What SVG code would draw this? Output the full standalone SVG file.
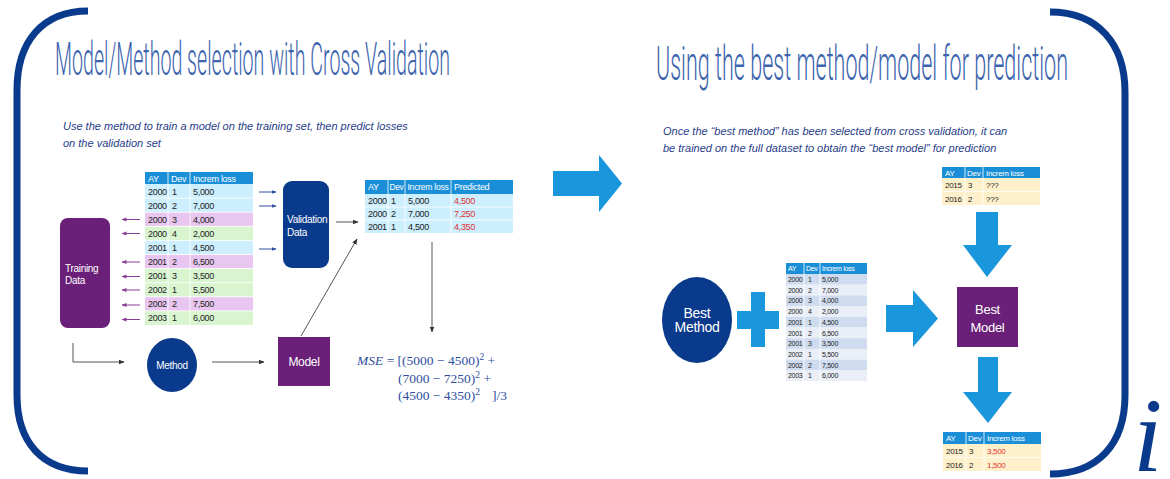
<svg xmlns="http://www.w3.org/2000/svg" width="1170" height="479" viewBox="0 0 1170 479">
  <style>
    .bracket { fill: none; stroke: #0a3a8c; stroke-width: 7; stroke-linecap: butt; }
    .title { font-family: Roboto, "Liberation Sans", sans-serif; font-weight: 300; fill: #3d64ae; }
    .note { font-family: "Liberation Sans", Arial, sans-serif; font-style: italic; font-size: 11px; fill: #1f3c88; }
    .cell { font-family: "Liberation Sans", Arial, sans-serif; font-size: 9px; fill: #222; letter-spacing: -0.3px; }
    .hcell { font-family: "Liberation Sans", Arial, sans-serif; font-size: 9px; fill: #fff; letter-spacing: -0.3px; }
    .red { fill: #e03030; }
    .hdr { fill: #1a8fd8; }
    .rb { fill: #cdeefd; }
    .rp { fill: #e8c6ef; }
    .rg { fill: #d8f5d0; }
    .ry { fill: #fff0cc; }
    .rd { fill: #cfdcef; }
    .rl { fill: #e9eef7; }
    .sep { stroke: #fff; stroke-width: 0.8; }
    .purple { fill: #6a1f78; }
    .navy { fill: #0a3a8c; }
    .wlabel { font-family: "Liberation Sans", Arial, sans-serif; fill: #fff; letter-spacing: -0.3px; }
    .bigarrow { fill: #1996dc; }
    .con { stroke: #555; stroke-width: 1; fill: none; }
    .conblue { stroke: #3050a0; stroke-width: 1; fill: none; }
    .conpurple { stroke: #8a3c98; stroke-width: 1; fill: none; }
    .mse { font-family: "Liberation Serif", "Times New Roman", serif; font-size: 13.5px; fill: #2e4f9e; }
  </style>
  <defs>
    <marker id="ah" viewBox="0 0 10 10" refX="9" refY="5" markerWidth="6" markerHeight="6" orient="auto" markerUnits="userSpaceOnUse">
      <path d="M0,1 L10,5 L0,9 Z" fill="#333"/>
    </marker>
    <marker id="ahb" viewBox="0 0 10 10" refX="9" refY="5" markerWidth="5" markerHeight="5" orient="auto" markerUnits="userSpaceOnUse">
      <path d="M0,1 L10,5 L0,9 Z" fill="#3050a0"/>
    </marker>
    <marker id="ahp" viewBox="0 0 10 10" refX="9" refY="5" markerWidth="5" markerHeight="5" orient="auto" markerUnits="userSpaceOnUse">
      <path d="M0,1 L10,5 L0,9 Z" fill="#8a3c98"/>
    </marker>
  </defs>

  <rect width="1170" height="479" fill="#fff"/>

  <!-- outer brackets and index -->
  <g id="frame">
    <path class="bracket" d="M88,11 C42,11 17,42 17,90 L17,395 C17,442 42,471 88,471"/>
    <path class="bracket" d="M1050,12 C1098,12 1125,44 1125,92 L1125,395 C1125,444 1098,474 1050,474"/>
    <text x="1133" y="471" font-family="'Liberation Serif', 'Times New Roman', serif" font-style="italic" font-size="106" fill="#0a3a8c">i</text>
  </g>

  <!-- headings -->
  <g id="headings">
    <text class="title" x="55" y="75" font-size="46" textLength="395" lengthAdjust="spacingAndGlyphs">Model/Method selection with Cross Validation</text>
    <text class="title" x="656" y="80" font-size="49" textLength="412" lengthAdjust="spacingAndGlyphs">Using the best method/model for prediction</text>
    <text class="note" x="63" y="130">Use the method to train a model on the training set, then predict losses</text>
    <text class="note" x="63" y="147">on the validation set</text>
    <text class="note" x="663" y="135" font-size="10.5">Once the “best method” has been selected from cross validation, it can</text>
    <text class="note" x="663" y="152" font-size="10.5">be trained on the full dataset to obtain the “best model” for prediction</text>
  </g>

  <!-- full dataset split into training and validation rows -->
  <g id="data-table">
    <rect class="hdr" x="145" y="172" width="108" height="12"/>
    <rect class="rb" x="145" y="184" width="108" height="14.1"/>
    <rect class="rb" x="145" y="198.1" width="108" height="14.1"/>
    <rect class="rp" x="145" y="212.2" width="108" height="14.1"/>
    <rect class="rg" x="145" y="226.3" width="108" height="14.1"/>
    <rect class="rb" x="145" y="240.4" width="108" height="14.1"/>
    <rect class="rp" x="145" y="254.5" width="108" height="14.1"/>
    <rect class="rg" x="145" y="268.6" width="108" height="14.1"/>
    <rect class="rg" x="145" y="282.7" width="108" height="14.1"/>
    <rect class="rp" x="145" y="296.8" width="108" height="14.1"/>
    <rect class="rg" x="145" y="310.9" width="108" height="14.1"/>
    <g class="sep">
      <line x1="168" y1="172" x2="168" y2="325"/>
      <line x1="190" y1="172" x2="190" y2="325"/>
      <line x1="145" y1="198.1" x2="253" y2="198.1"/>
      <line x1="145" y1="212.2" x2="253" y2="212.2"/>
      <line x1="145" y1="226.3" x2="253" y2="226.3"/>
      <line x1="145" y1="240.4" x2="253" y2="240.4"/>
      <line x1="145" y1="254.5" x2="253" y2="254.5"/>
      <line x1="145" y1="268.6" x2="253" y2="268.6"/>
      <line x1="145" y1="282.7" x2="253" y2="282.7"/>
      <line x1="145" y1="296.8" x2="253" y2="296.8"/>
      <line x1="145" y1="310.9" x2="253" y2="310.9"/>
    </g>
    <text class="hcell" x="148" y="181.5">AY</text>
    <text class="hcell" x="171" y="181.5">Dev</text>
    <text class="hcell" x="193" y="181.5">Increm loss</text>
    <g class="cell">
      <text x="148" y="194.5">2000</text><text x="172" y="194.5">1</text><text x="193" y="194.5">5,000</text>
      <text x="148" y="208.6">2000</text><text x="172" y="208.6">2</text><text x="193" y="208.6">7,000</text>
      <text x="148" y="222.7">2000</text><text x="172" y="222.7">3</text><text x="193" y="222.7">4,000</text>
      <text x="148" y="236.8">2000</text><text x="172" y="236.8">4</text><text x="193" y="236.8">2,000</text>
      <text x="148" y="250.9">2001</text><text x="172" y="250.9">1</text><text x="193" y="250.9">4,500</text>
      <text x="148" y="265">2001</text><text x="172" y="265">2</text><text x="193" y="265">6,500</text>
      <text x="148" y="279.1">2001</text><text x="172" y="279.1">3</text><text x="193" y="279.1">3,500</text>
      <text x="148" y="293.2">2002</text><text x="172" y="293.2">1</text><text x="193" y="293.2">5,500</text>
      <text x="148" y="307.3">2002</text><text x="172" y="307.3">2</text><text x="193" y="307.3">7,500</text>
      <text x="148" y="321.4">2003</text><text x="172" y="321.4">1</text><text x="193" y="321.4">6,000</text>
    </g>
  </g>

  <g id="training-data">
    <rect class="purple" x="60" y="218" width="50" height="110" rx="8"/>
    <text class="wlabel" x="65" y="271.5" font-size="10">Training</text>
    <text class="wlabel" x="65" y="284" font-size="10">Data</text>
  </g>

  <g id="validation-data">
    <rect class="navy" x="283" y="181" width="46" height="87" rx="9"/>
    <text class="wlabel" x="287" y="222.5" font-size="10">Validation</text>
    <text class="wlabel" x="287" y="236" font-size="10">Data</text>
  </g>

  <g id="method">
    <ellipse class="navy" cx="172" cy="365" rx="25" ry="27"/>
    <text class="wlabel" x="172" y="368.5" font-size="10" text-anchor="middle">Method</text>
  </g>

  <g id="model">
    <rect class="purple" x="278" y="337" width="52" height="49"/>
    <text class="wlabel" x="304" y="366" font-size="12" text-anchor="middle">Model</text>
  </g>

  <!-- predictions on the validation rows -->
  <g id="prediction-table">
    <rect class="hdr" x="365" y="180" width="148" height="14"/>
    <rect class="rb" x="365" y="194" width="148" height="39"/>
    <g class="sep">
      <line x1="388" y1="180" x2="388" y2="233"/>
      <line x1="405" y1="180" x2="405" y2="233"/>
      <line x1="451" y1="180" x2="451" y2="233"/>
      <line x1="365" y1="207" x2="513" y2="207"/>
      <line x1="365" y1="220" x2="513" y2="220"/>
    </g>
    <text class="hcell" x="368" y="190">AY</text>
    <text class="hcell" x="389.5" y="190" textLength="14" lengthAdjust="spacingAndGlyphs">Dev</text>
    <text class="hcell" x="407.5" y="190" textLength="41" lengthAdjust="spacingAndGlyphs">Increm loss</text>
    <text class="hcell" x="454" y="190">Predicted</text>
    <g class="cell">
      <text x="368" y="204">2000</text><text x="391" y="204">1</text><text x="408" y="204">5,000</text><text class="red" x="454" y="204">4,500</text>
      <text x="368" y="217">2000</text><text x="391" y="217">2</text><text x="408" y="217">7,000</text><text class="red" x="454" y="217">7,250</text>
      <text x="368" y="230">2001</text><text x="391" y="230">1</text><text x="408" y="230">4,500</text><text class="red" x="454" y="230">4,350</text>
    </g>
  </g>

  <g id="mse">
    <text class="mse" x="357" y="365"><tspan font-style="italic">MSE</tspan> = [(5000 − 4500)<tspan font-size="9.5" dy="-5">2</tspan><tspan dy="5"> +</tspan></text>
    <text class="mse" x="398" y="383">(7000 − 7250)<tspan font-size="9.5" dy="-5">2</tspan><tspan dy="5"> +</tspan></text>
    <text class="mse" x="398" y="400">(4500 − 4350)<tspan font-size="9.5" dy="-5">2</tspan></text>
    <text class="mse" x="492" y="400">]/3</text>
  </g>

  <g id="section-arrow">
    <path class="bigarrow" d="M553,171 L599,171 L599,155 L622,183.5 L599,212 L599,196 L553,196 Z"/>
  </g>

  <g id="best-method">
    <ellipse class="navy" cx="697" cy="320" rx="35" ry="43"/>
    <text class="wlabel" x="697" y="318" font-size="14" text-anchor="middle">Best</text>
    <text class="wlabel" x="697" y="332" font-size="14" text-anchor="middle">Method</text>
  </g>

  <g id="plus">
    <rect class="bigarrow" x="737" y="311" width="42" height="18"/>
    <rect class="bigarrow" x="751" y="292" width="14" height="55"/>
  </g>

  <!-- full dataset -->
  <g id="full-table">
    <rect class="hdr" x="786" y="263" width="81" height="11"/>
    <rect class="rd" x="786" y="274" width="81" height="10.7"/>
    <rect class="rl" x="786" y="284.7" width="81" height="10.7"/>
    <rect class="rd" x="786" y="295.4" width="81" height="10.7"/>
    <rect class="rl" x="786" y="306.1" width="81" height="10.7"/>
    <rect class="rd" x="786" y="316.8" width="81" height="10.7"/>
    <rect class="rl" x="786" y="327.5" width="81" height="10.7"/>
    <rect class="rd" x="786" y="338.2" width="81" height="10.7"/>
    <rect class="rl" x="786" y="348.9" width="81" height="10.7"/>
    <rect class="rd" x="786" y="359.6" width="81" height="10.7"/>
    <rect class="rl" x="786" y="370.3" width="81" height="10.7"/>
    <g class="sep">
      <line x1="804" y1="263" x2="804" y2="381"/>
      <line x1="820" y1="263" x2="820" y2="381"/>
    </g>
    <g class="hcell" style="font-size:7px">
      <text x="788" y="271">AY</text><text x="806" y="271">Dev</text><text x="822" y="271">Increm loss</text>
    </g>
    <g class="cell" style="font-size:7px">
      <text x="788" y="282">2000</text><text x="808" y="282">1</text><text x="822" y="282">5,000</text>
      <text x="788" y="292.7">2000</text><text x="808" y="292.7">2</text><text x="822" y="292.7">7,000</text>
      <text x="788" y="303.4">2000</text><text x="808" y="303.4">3</text><text x="822" y="303.4">4,000</text>
      <text x="788" y="314.1">2000</text><text x="808" y="314.1">4</text><text x="822" y="314.1">2,000</text>
      <text x="788" y="324.8">2001</text><text x="808" y="324.8">1</text><text x="822" y="324.8">4,500</text>
      <text x="788" y="335.5">2001</text><text x="808" y="335.5">2</text><text x="822" y="335.5">6,500</text>
      <text x="788" y="346.2">2001</text><text x="808" y="346.2">3</text><text x="822" y="346.2">3,500</text>
      <text x="788" y="356.9">2002</text><text x="808" y="356.9">1</text><text x="822" y="356.9">5,500</text>
      <text x="788" y="367.6">2002</text><text x="808" y="367.6">2</text><text x="822" y="367.6">7,500</text>
      <text x="788" y="378.3">2003</text><text x="808" y="378.3">1</text><text x="822" y="378.3">6,000</text>
    </g>
  </g>

  <g id="to-best-model">
    <path class="bigarrow" d="M886,305 L913,305 L913,290 L938,318.5 L913,347 L913,332 L886,332 Z"/>
  </g>

  <!-- rows to predict -->
  <g id="new-rows">
    <rect class="hdr" x="942" y="167" width="98" height="11"/>
    <rect class="ry" x="942" y="178" width="98" height="27"/>
    <g class="sep">
      <line x1="965" y1="167" x2="965" y2="205"/>
      <line x1="983" y1="167" x2="983" y2="205"/>
      <line x1="942" y1="191.5" x2="1040" y2="191.5"/>
    </g>
    <g class="hcell" style="font-size:8px">
      <text x="945" y="175.5">AY</text><text x="967" y="175.5">Dev</text><text x="986" y="175.5">Increm loss</text>
    </g>
    <g class="cell" style="font-size:8px">
      <text x="945" y="188">2015</text><text x="968" y="188">3</text><text x="986" y="188">???</text>
      <text x="945" y="201.5">2016</text><text x="968" y="201.5">2</text><text x="986" y="201.5">???</text>
    </g>
  </g>

  <g id="down-arrow-top">
    <path class="bigarrow" d="M976,212 L998,212 L998,245 L1012,245 L987,277 L963,245 L976,245 Z"/>
  </g>

  <g id="best-model">
    <rect class="purple" x="957" y="287" width="61" height="60"/>
    <text class="wlabel" x="987.5" y="313.5" font-size="13" text-anchor="middle">Best</text>
    <text class="wlabel" x="987.5" y="331.5" font-size="13" text-anchor="middle">Model</text>
  </g>

  <g id="down-arrow-bottom">
    <path class="bigarrow" d="M978,357 L998,357 L998,392 L1012,392 L988,423 L963,392 L978,392 Z"/>
  </g>

  <!-- predicted rows -->
  <g id="predicted-rows">
    <rect class="hdr" x="943" y="432" width="98" height="12"/>
    <rect class="ry" x="943" y="444" width="98" height="27"/>
    <g class="sep">
      <line x1="966" y1="432" x2="966" y2="471"/>
      <line x1="984" y1="432" x2="984" y2="471"/>
      <line x1="943" y1="457.5" x2="1041" y2="457.5"/>
    </g>
    <g class="hcell" style="font-size:8px">
      <text x="946" y="441">AY</text><text x="968" y="441">Dev</text><text x="987" y="441">Increm loss</text>
    </g>
    <g class="cell" style="font-size:8px">
      <text x="946" y="454">2015</text><text x="969" y="454">3</text><text class="red" x="987" y="454">3,500</text>
      <text x="946" y="467.5">2016</text><text x="969" y="467.5">2</text><text class="red" x="987" y="467.5">1,500</text>
    </g>
  </g>

  <!-- connectors -->
  <g id="connectors">
    <line class="conblue" x1="259" y1="192" x2="276" y2="192" marker-end="url(#ahb)"/>
    <line class="conblue" x1="259" y1="206" x2="276" y2="206" marker-end="url(#ahb)"/>
    <line class="conblue" x1="259" y1="249" x2="276" y2="249" marker-end="url(#ahb)"/>
    <line class="conpurple" x1="140" y1="219.5" x2="122" y2="219.5" marker-end="url(#ahp)"/>
    <line class="conpurple" x1="140" y1="233.5" x2="122" y2="233.5" marker-end="url(#ahp)"/>
    <line class="conpurple" x1="140" y1="262" x2="122" y2="262" marker-end="url(#ahp)"/>
    <line class="conpurple" x1="140" y1="276.5" x2="122" y2="276.5" marker-end="url(#ahp)"/>
    <line class="conpurple" x1="140" y1="290" x2="122" y2="290" marker-end="url(#ahp)"/>
    <line class="conpurple" x1="140" y1="305" x2="122" y2="305" marker-end="url(#ahp)"/>
    <line class="conpurple" x1="140" y1="319.5" x2="122" y2="319.5" marker-end="url(#ahp)"/>
    <path class="con" d="M73,343 L73,362 L124,362" marker-end="url(#ah)"/>
    <line class="con" x1="212" y1="362" x2="264" y2="362" marker-end="url(#ah)"/>
    <line class="con" x1="336" y1="222" x2="358" y2="222" marker-end="url(#ah)"/>
    <line class="con" x1="301" y1="336" x2="357" y2="239" marker-end="url(#ah)"/>
    <line class="con" x1="432" y1="242" x2="432" y2="332" marker-end="url(#ah)"/>
  </g>
</svg>
